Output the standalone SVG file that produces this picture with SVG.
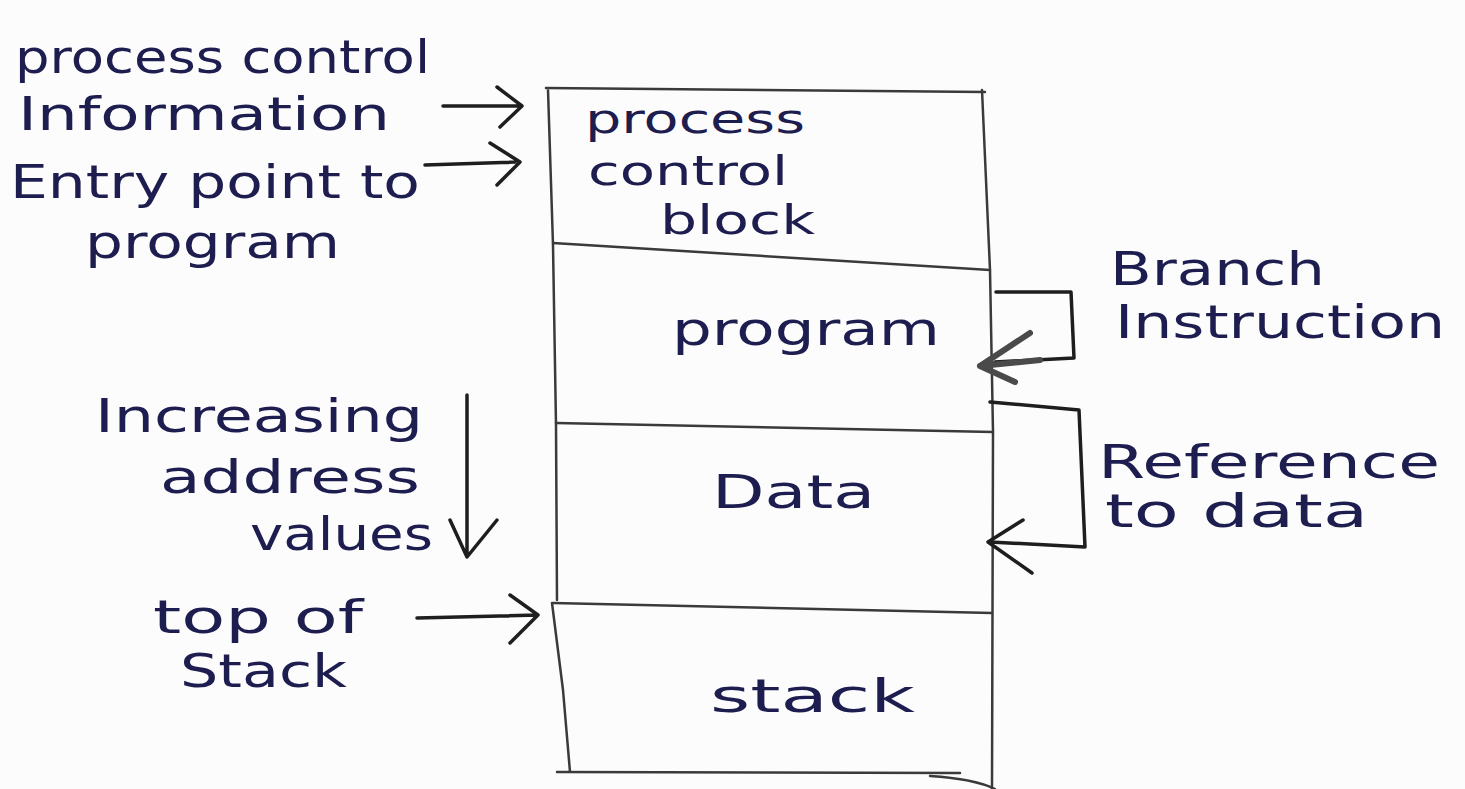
<svg xmlns="http://www.w3.org/2000/svg" width="1465" height="789" viewBox="0 0 1465 789">
<style>
.t{font-family:"DejaVu Sans","Liberation Sans",sans-serif;font-size:46px;fill:#1d1d4f;}
.s{font-size:40px;}
.box{fill:none;stroke:#3a3a3a;stroke-width:2.5;stroke-linecap:round;stroke-linejoin:round;}
.c{fill:none;stroke:#1e1e1e;stroke-width:3.5;stroke-linecap:round;stroke-linejoin:round;}
.ch{fill:none;stroke:#4a4a4a;stroke-width:6;stroke-linecap:round;stroke-linejoin:round;}
</style>
<rect width="1465" height="789" fill="#fdfcfc"/>

<g id="memory-box">
  <path class="box" d="M546,88 L985,92 M548,90 L553,245 L556,425 L557,600 M552,603 L563,690 L570,772 M982,90 L990,270 L993,432 L992,789 M557,772 L960,773 M930,776 Q975,779 995,789"/>
</g>

<g id="pcb">
  <text class="t s" x="585" y="133" textLength="220" lengthAdjust="spacingAndGlyphs">process</text>
  <text class="t s" x="588" y="185" textLength="200" lengthAdjust="spacingAndGlyphs">control</text>
  <text class="t s" x="660" y="234" textLength="155" lengthAdjust="spacingAndGlyphs">block</text>
</g>

<g id="program">
  <path class="box" d="M553,243 L990,270"/>
  <text class="t" x="672" y="345" textLength="268" lengthAdjust="spacingAndGlyphs">program</text>
</g>

<g id="data">
  <path class="box" d="M556,423 L993,432"/>
  <text class="t" x="712" y="508" textLength="163" lengthAdjust="spacingAndGlyphs">Data</text>
</g>

<g id="stack">
  <path class="box" d="M553,603 L992,613"/>
  <text class="t" x="710" y="712" textLength="205" lengthAdjust="spacingAndGlyphs">stack</text>
</g>

<g id="label-pci">
  <text class="t" x="15" y="73" textLength="415" lengthAdjust="spacingAndGlyphs">process control</text>
  <text class="t" x="18" y="130" textLength="372" lengthAdjust="spacingAndGlyphs">Information</text>
</g>

<g id="label-entry">
  <text class="t" x="10" y="198" textLength="410" lengthAdjust="spacingAndGlyphs">Entry point to</text>
  <text class="t" x="85" y="258" textLength="255" lengthAdjust="spacingAndGlyphs">program</text>
</g>

<g id="label-increasing">
  <text class="t" x="95" y="432" textLength="328" lengthAdjust="spacingAndGlyphs">Increasing</text>
  <text class="t" x="160" y="493" textLength="260" lengthAdjust="spacingAndGlyphs">address</text>
  <text class="t" x="250" y="550" textLength="183" lengthAdjust="spacingAndGlyphs">values</text>
</g>

<g id="label-top">
  <text class="t" x="153" y="633" textLength="210" lengthAdjust="spacingAndGlyphs">top of</text>
  <text class="t" x="180" y="687" textLength="167" lengthAdjust="spacingAndGlyphs">Stack</text>
</g>

<g id="label-branch">
  <text class="t" x="1110" y="285" textLength="215" lengthAdjust="spacingAndGlyphs">Branch</text>
  <text class="t" x="1115" y="338" textLength="330" lengthAdjust="spacingAndGlyphs">Instruction</text>
</g>

<g id="label-reference">
  <text class="t" x="1098" y="478" textLength="342" lengthAdjust="spacingAndGlyphs">Reference</text>
  <text class="t" x="1105" y="527" textLength="263" lengthAdjust="spacingAndGlyphs">to data</text>
</g>

<g id="connectors">
  <path class="c" d="M443,106 L518,106 M497,87 L522,106 L500,127"/>
  <path class="c" d="M425,165 L515,162 M490,143 L520,162 L497,185"/>
  <path class="c" d="M996,292 L1071,292 L1074,358 L995,362"/>
  <path class="ch" d="M1030,333 L980,366 L1015,382 M980,366 L1040,360"/>
  <path class="c" d="M990,402 L1079,410 L1085,547 L990,542 M1023,520 L988,542 L1032,573"/>
  <path class="c" d="M467,395 L467,555 M450,520 L467,557 L497,520"/>
  <path class="c" d="M417,618 L538,615 M510,595 L538,615 L510,643"/>
</g>
</svg>
